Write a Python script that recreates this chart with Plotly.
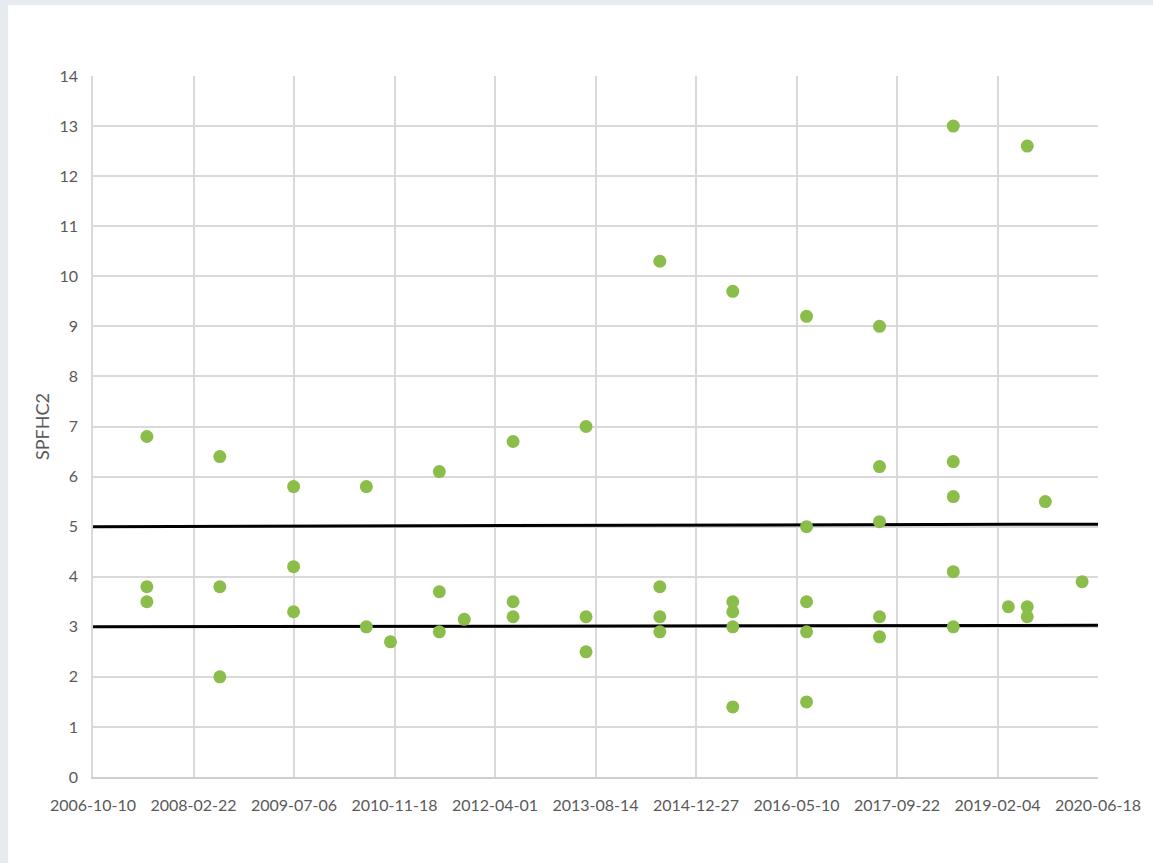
import plotly.graph_objects as go
from datetime import date, timedelta

# ---- data ----
sample_dates = [
    "2007-07-05", "2007-07-05", "2007-07-05",
    "2008-07-02", "2008-07-02", "2008-07-02",
    "2009-07-04", "2009-07-04", "2009-07-04",
    "2010-07-01", "2010-07-01",
    "2010-10-29",
    "2011-06-29", "2011-06-29", "2011-06-29",
    "2011-10-31",
    "2012-06-30", "2012-06-30", "2012-06-30",
    "2013-06-28", "2013-06-28", "2013-06-28",
    "2014-06-30", "2014-06-30", "2014-06-30", "2014-06-30",
    "2015-06-28", "2015-06-28", "2015-06-28", "2015-06-28", "2015-06-28",
    "2016-06-29", "2016-06-29", "2016-06-29", "2016-06-29", "2016-06-29",
    "2017-06-27", "2017-06-27", "2017-06-27", "2017-06-27", "2017-06-27",
    "2018-06-29", "2018-06-29", "2018-06-29", "2018-06-29", "2018-06-29",
    "2019-03-30",
    "2019-07-02", "2019-07-02", "2019-07-02",
    "2019-09-30",
    "2020-03-31",
]
spfhc2_values = [
    6.8, 3.8, 3.5,
    6.4, 3.8, 2.0,
    5.8, 4.2, 3.3,
    5.8, 3.0,
    2.7,
    6.1, 3.7, 2.9,
    3.15,
    6.7, 3.5, 3.2,
    7.0, 3.2, 2.5,
    10.3, 3.8, 3.2, 2.9,
    9.7, 3.5, 3.3, 3.0, 1.4,
    9.2, 5.0, 3.5, 2.9, 1.5,
    9.0, 6.2, 5.1, 3.2, 2.8,
    13.0, 6.3, 5.6, 4.1, 3.0,
    3.4,
    12.6, 3.4, 3.2,
    5.5,
    3.9,
]
line_dates = ["2006-10-10", "2020-06-18"]
upper_line = [5.0, 5.05]
lower_line = [3.0, 3.03]

axis_start = "2006-10-10"
axis_end = "2020-06-18"
tick_step_days = 500
y_ticks = list(range(0, 15))

# ---- ticks ----
start = date.fromisoformat(axis_start)
end = date.fromisoformat(axis_end)
x_ticks = []
d = start
while d <= end:
    x_ticks.append(d.isoformat())
    d += timedelta(days=tick_step_days)

fig = go.Figure()

fig.add_trace(go.Scatter(
    x=line_dates, y=upper_line, mode="lines",
    line=dict(color="black", width=3), showlegend=False, hoverinfo="skip"))
fig.add_trace(go.Scatter(
    x=line_dates, y=lower_line, mode="lines",
    line=dict(color="black", width=3), showlegend=False, hoverinfo="skip"))
fig.add_trace(go.Scatter(
    x=sample_dates, y=spfhc2_values, mode="markers",
    marker=dict(color="#8BBD4A", size=13, line=dict(width=0)),
    showlegend=False))

grid = "#D9D9D9"
font_family = "Lato, 'Open Sans', sans-serif"
x_tick_font = dict(family=font_family, size=16, color="#595959")
y_tick_font = dict(family=font_family, size=16, color="#595959")

W, H = 1153, 863
L, R, T, B = 93, 1100, 76, 777
pw, ph = R - L, B - T

# white panel over the light gray page background
fig.add_shape(type="rect", xref="paper", yref="paper", layer="below",
              x0=(8 - L) / pw, x1=(W + 5 - L) / pw,
              y0=(B - H - 5) / ph, y1=(B - 5) / ph,
              fillcolor="white", line=dict(width=0))

fig.update_layout(
    width=W, height=H,
    margin=dict(l=L, r=W - R, t=T, b=H - B),
    paper_bgcolor="#E6EBF0",
    plot_bgcolor="white",
    xaxis=dict(
        type="date", range=[axis_start, axis_end],
        tickvals=x_ticks, ticktext=x_ticks,
        tickfont=x_tick_font, tickangle=0,
        showgrid=True, gridcolor=grid, gridwidth=1.5,
        showline=True, linecolor="#CFCFCF", linewidth=2,
        ticks="outside", ticklen=13, tickcolor="rgba(0,0,0,0)",
        zeroline=False, mirror=False,
    ),
    yaxis=dict(
        range=[0, 14], tickvals=y_ticks,
        tickfont=y_tick_font,
        showgrid=True, gridcolor=grid, gridwidth=1.5,
        showline=True, linecolor=grid, linewidth=1.5,
        ticks="outside", ticklen=10, tickcolor="rgba(0,0,0,0)",
        zeroline=False,
        title=dict(text="SPFHC2", font=dict(family=font_family, size=18, color="#595959"), standoff=5),
    ),
)

fig.write_html(
    "out.html",
    config={"displayModeBar": False},
    post_script="document.body.style.margin='0';document.body.style.overflow='hidden';",
)
